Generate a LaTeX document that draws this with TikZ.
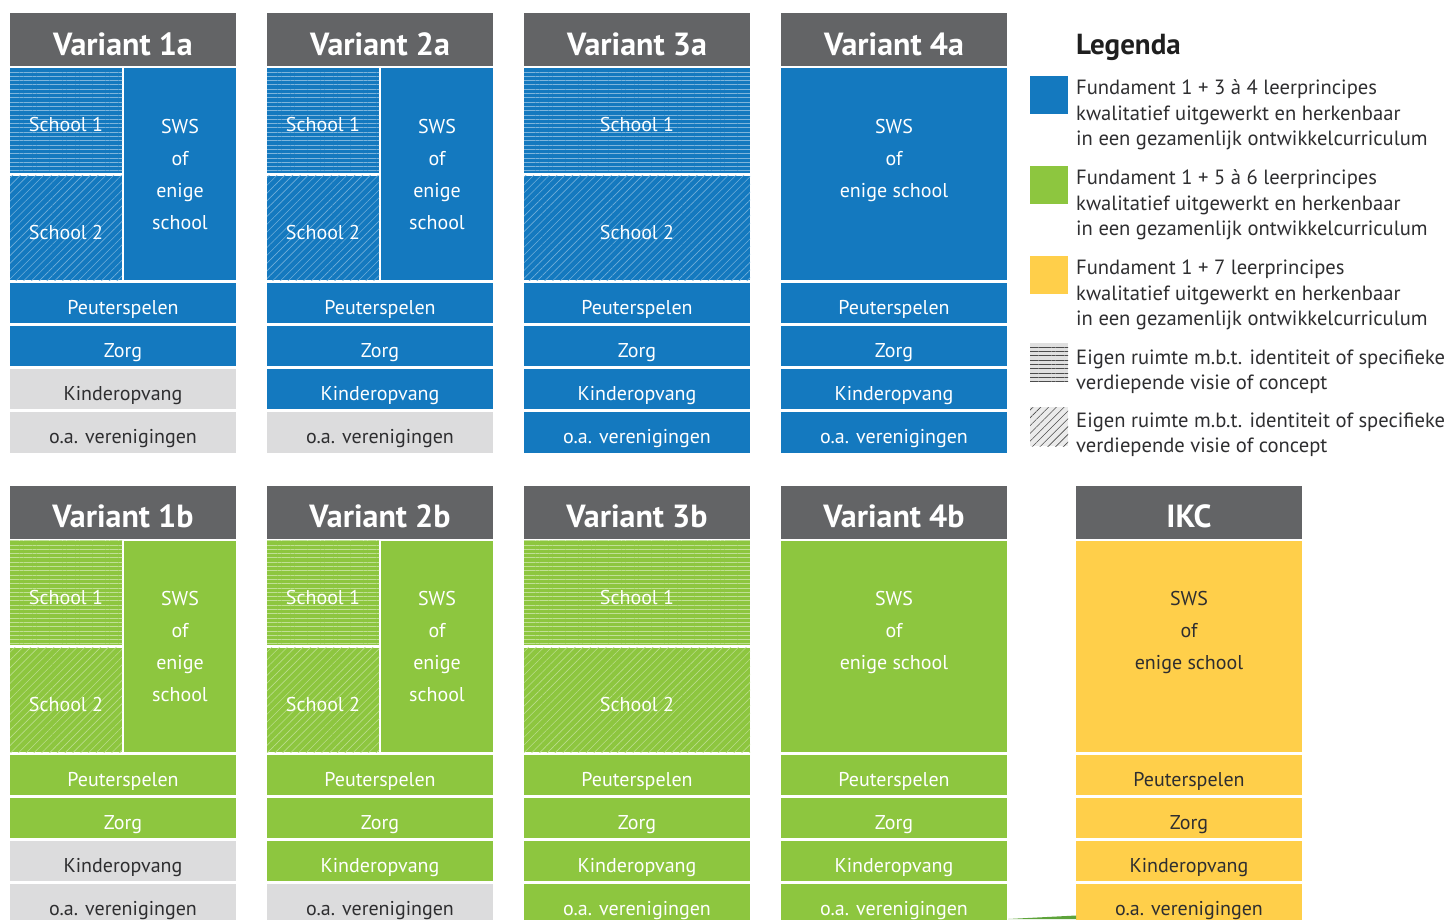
\documentclass[tikz,border=0pt]{standalone}
\usepackage{fontspec}
\setmainfont{PT Sans}
\usetikzlibrary{patterns.meta}
\usepackage{xcolor}
\definecolor{kopGrijs}{HTML}{636466}
\definecolor{fundBlauw}{HTML}{1479BF}
\definecolor{fundGroen}{HTML}{8DC63F}
\definecolor{fundGeel}{HTML}{FFCF4A}
\definecolor{lichtGrijs}{HTML}{DCDCDD}
\definecolor{tekstDonker}{HTML}{2E2E30}
\definecolor{groenDonker}{HTML}{5DA33A}

\begin{document}
\begin{tikzpicture}[
  x=1pt, y=-1pt,
  kop/.style={fill=kopGrijs, text=white, font=\bfseries\fontsize{32}{32}\selectfont, minimum width=226pt, minimum height=53pt, inner sep=0pt, text height=31pt, text depth=0pt},
  vak/.style={font=\fontsize{20}{32}\selectfont, align=center, inner sep=0pt, minimum width=226pt, minimum height=40.5pt},
  regel/.style={text height=22pt, text depth=0pt},
  halfvak/.style={vak, minimum width=112pt, minimum height=104.5pt},
  heelvak/.style={vak, minimum height=104.5pt},
  blauw/.style={fill=fundBlauw, text=white},
  groen/.style={fill=fundGroen, text=white},
  geel/.style={fill=fundGeel, text=tekstDonker},
  grijs/.style={fill=lichtGrijs, text=tekstDonker},
  strepen/.style={postaction={pattern color=#1, pattern={Lines[angle=0, distance=4.3pt, line width=0.6pt]}}},
  arcering/.style={postaction={pattern color=#1, pattern={Lines[angle=45, distance=5.5pt, line width=0.6pt]}}},
  legtekst/.style={anchor=west, align=left, inner sep=0pt, text=tekstDonker, font=\fontsize{20.6}{25.3}\selectfont},
  legvlak/.style={minimum width=38pt, minimum height=38pt, inner sep=0pt}
]
\useasboundingbox (0,0) rectangle (1449,919);

% Bovenste rij: varianten a
\node[kop] (h1a) at (123,39.5) {Variant 1a};
\node[kop] (h2a) at (380,39.5) {Variant 2a};
\node[kop] (h3a) at (637,39.5) {Variant 3a};
\node[kop] (h4a) at (894,39.5) {Variant 4a};

\node[halfvak, regel, blauw, strepen=white!45!fundBlauw]  (s1v1a) at (66,120.5) {School 1};
\node[halfvak, regel, blauw, arcering=white!40!fundBlauw] (s2v1a) at (66,228) {School 2};
\node[halfvak, blauw, minimum height=212pt]               (swsv1a) at (180,174) {SWS\\of\\enige\\school};

\node[halfvak, regel, blauw, strepen=white!45!fundBlauw]  (s1v2a) at (323,120.5) {School 1};
\node[halfvak, regel, blauw, arcering=white!40!fundBlauw] (s2v2a) at (323,228) {School 2};
\node[halfvak, blauw, minimum height=212pt]               (swsv2a) at (437,174) {SWS\\of\\enige\\school};

\node[heelvak, regel, blauw, strepen=white!45!fundBlauw]  (s1v3a) at (637,120.5) {School 1};
\node[heelvak, regel, blauw, arcering=white!40!fundBlauw] (s2v3a) at (637,228) {School 2};

\node[vak, blauw, minimum height=212pt] (swsv4a) at (894,174) {SWS\\of\\enige school\\[0pt]~};

\foreach \x/\n/\ko/\ve in {123/1a/grijs/grijs, 380/2a/blauw/grijs, 637/3a/blauw/blauw, 894/4a/blauw/blauw} {
  \node[vak, regel, blauw] (peu\n)  at (\x,303)   {Peuterspelen};
  \node[vak, regel, blauw] (zorg\n) at (\x,346)   {Zorg};
  \node[vak, regel, \ko]   (ko\n)   at (\x,389)   {Kinderopvang};
  \node[vak, regel, \ve]   (ver\n)  at (\x,432.5) {o.a. verenigingen};
}

% Onderste rij: varianten b en IKC
\node[kop] (h1b) at (123,512) {Variant 1b};
\node[kop] (h2b) at (380,512) {Variant 2b};
\node[kop] (h3b) at (637,512) {Variant 3b};
\node[kop] (h4b) at (894,512) {Variant 4b};
\node[kop] (hikc) at (1189,512) {IKC};

\node[halfvak, regel, groen, strepen=white!45!fundGroen]  (s1v1b) at (66,593) {School 1};
\node[halfvak, regel, groen, arcering=white!40!fundGroen] (s2v1b) at (66,700) {School 2};
\node[halfvak, groen, minimum height=211pt]               (swsv1b) at (180,646.5) {SWS\\of\\enige\\school};

\node[halfvak, regel, groen, strepen=white!45!fundGroen]  (s1v2b) at (323,593) {School 1};
\node[halfvak, regel, groen, arcering=white!40!fundGroen] (s2v2b) at (323,700) {School 2};
\node[halfvak, groen, minimum height=211pt]               (swsv2b) at (437,646.5) {SWS\\of\\enige\\school};

\node[heelvak, regel, groen, strepen=white!45!fundGroen]  (s1v3b) at (637,593) {School 1};
\node[heelvak, regel, groen, arcering=white!40!fundGroen] (s2v3b) at (637,700) {School 2};

\node[vak, groen, minimum height=211pt] (swsv4b) at (894,646.5) {SWS\\of\\enige school\\[0pt]~};
\node[vak, geel, minimum height=211pt]  (swsikc) at (1189,646.5) {SWS\\of\\enige school\\[0pt]~};

\foreach \x/\n/\kl/\ko/\ve in {123/1b/groen/grijs/grijs, 380/2b/groen/groen/grijs, 637/3b/groen/groen/groen, 894/4b/groen/groen/groen, 1189/ikc/geel/geel/geel} {
  \node[vak, regel, \kl] (peu\n)  at (\x,775) {Peuterspelen};
  \node[vak, regel, \kl] (zorg\n) at (\x,818) {Zorg};
  \node[vak, regel, \ko] (ko\n)   at (\x,861) {Kinderopvang};
  \node[vak, regel, \ve] (ver\n)  at (\x,904) {o.a. verenigingen};
}
\fill[groenDonker] (1008,919) -- (1076,915.5) -- (1076,919) -- cycle;

% Legenda
\node[legtekst, text=black!88, font=\bfseries\fontsize{29}{29}\selectfont] (legenda) at (1076,47) {Legenda};

\node[legvlak, fill=fundBlauw] (vlak1) at (1049,94.5) {};
\node[legtekst] (leg1) at (1076,115) {Fundament 1 + 3 à 4 leerprincipes\\kwalitatief uitgewerkt en herkenbaar\\in een gezamenlijk ontwikkelcurriculum};

\node[legvlak, fill=fundGroen] (vlak2) at (1049,184.5) {};
\node[legtekst] (leg2) at (1076,205) {Fundament 1 + 5 à 6 leerprincipes\\kwalitatief uitgewerkt en herkenbaar\\in een gezamenlijk ontwikkelcurriculum};

\node[legvlak, fill=fundGeel] (vlak3) at (1049,274.5) {};
\node[legtekst] (leg3) at (1076,295) {Fundament 1 + 7 leerprincipes\\kwalitatief uitgewerkt en herkenbaar\\in een gezamenlijk ontwikkelcurriculum};

\node[legvlak, minimum height=39pt, fill=black!12, strepen=black!70] (vlak4) at (1049,362.5) {};
\node[legtekst] (leg4) at (1076,372) {Eigen ruimte m.b.t. identiteit of specifieke\\verdiepende visie of concept};

\node[legvlak, minimum height=39pt, fill=black!8, arcering=black!70] (vlak5) at (1049,426.5) {};
\node[legtekst] (leg5) at (1076,435) {Eigen ruimte m.b.t. identiteit of specifieke\\verdiepende visie of concept};
\end{tikzpicture}
\end{document}
